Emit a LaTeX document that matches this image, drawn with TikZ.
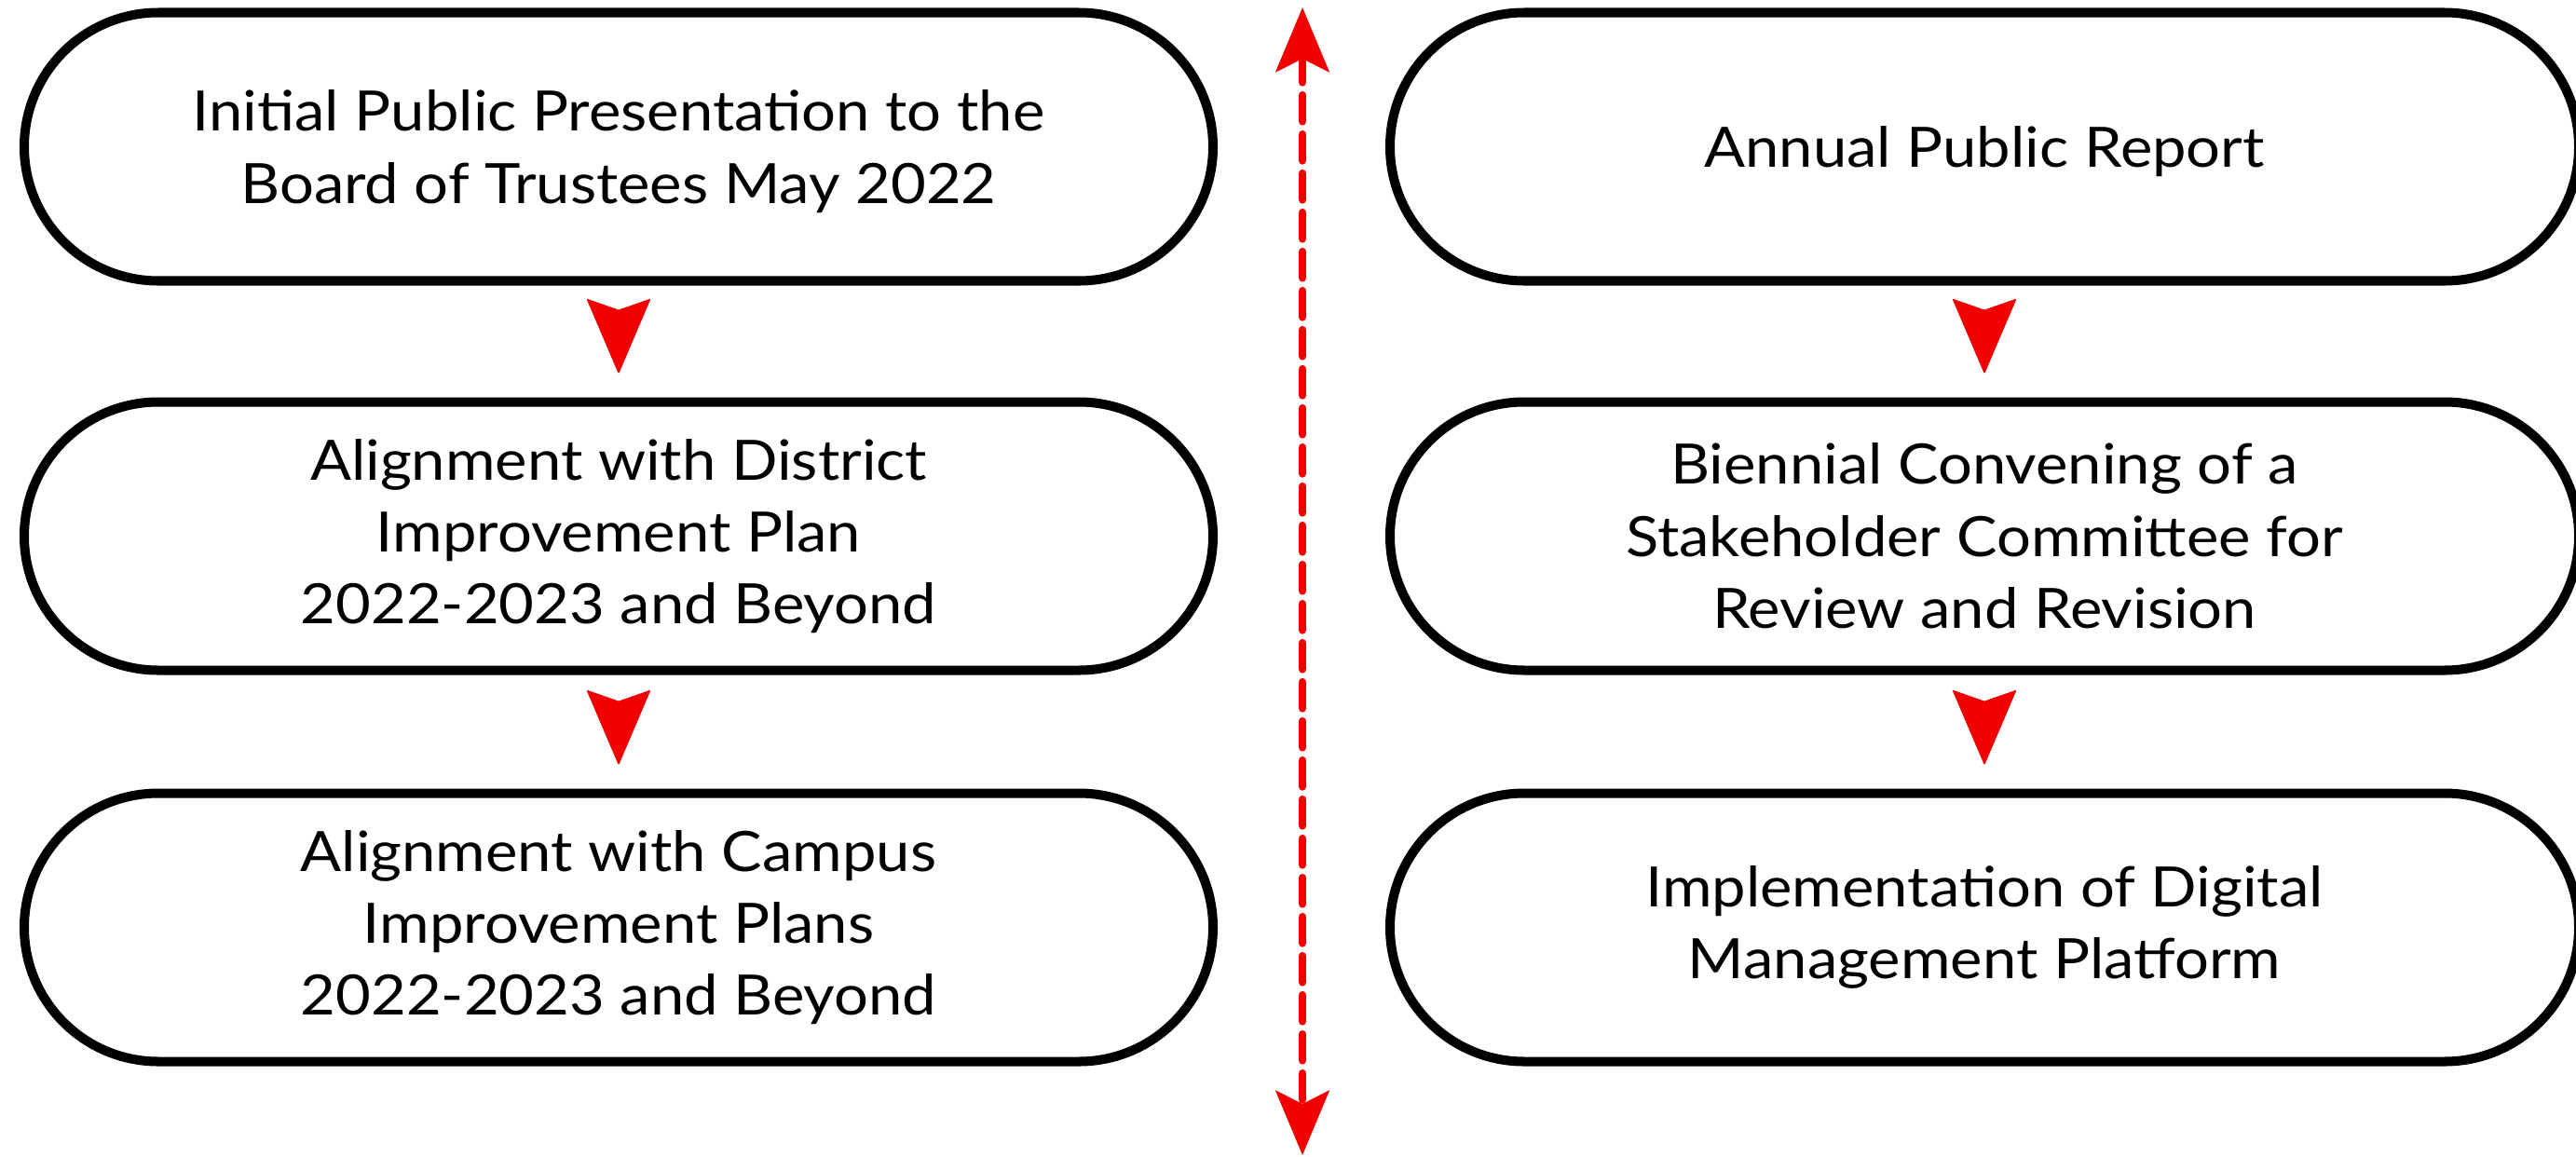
\documentclass[tikz,border=0pt]{standalone}
\usepackage{fontspec}
\setmainfont{Lato}[FakeStretch=1.09]
\usetikzlibrary{arrows.meta,positioning}
\definecolor{flowred}{RGB}{242,0,0}

\begin{document}
\begin{tikzpicture}[font=\fontsize{17}{22}\selectfont,
 pill/.style={draw=black,line width=2.85pt,rounded corners=1.44cm,minimum width=12.76cm,minimum height=2.88cm,align=center,inner sep=0pt},
 nextarr/.style={draw=flowred,fill=flowred,line width=0.4pt,-{Stealth[length=0.81cm,width=0.69cm,inset=0.12cm,round]},shorten <=0.36cm,shorten >=0.26cm},
 spine/.style={draw=flowred,line width=2.5pt,line cap=round,dash pattern=on 0.28cm off 0.14cm,{Stealth[length=0.69cm,width=0.57cm,inset=0.14cm]}-{Stealth[length=0.69cm,width=0.57cm,inset=0.14cm]}}]
\useasboundingbox (0,0) rectangle (27.65,-12.41);
\node[pill,text depth=0pt] (l1) at (6.64,-1.575) {Initial Public Presentation to the\\Board of Trustees May 2022};
\node[pill] (l2) at (6.64,-5.755) {Alignment with District\\Improvement Plan\\2022-2023 and Beyond};
\node[pill] (l3) at (6.64,-9.955) {Alignment with Campus\\Improvement Plans\\2022-2023 and Beyond};
\node[pill,text depth=0pt] (r1) at (21.30,-1.575) {Annual Public Report};
\node[pill] (r2) at (21.30,-5.755) {Biennial Convening of a\\Stakeholder Committee for\\Review and Revision};
\node[pill] (r3) at (21.30,-9.955) {Implementation of Digital\\Management Platform};
\foreach \a/\b in {l1/l2,l2/l3,r1/r2,r2/r3}{\draw[nextarr] (\a)--(\b);}
\coordinate (top) at (13.98,-0.08);
\coordinate (bot) at (13.98,-12.40);
\draw[spine] (top)--(bot);
\end{tikzpicture}
\end{document}
